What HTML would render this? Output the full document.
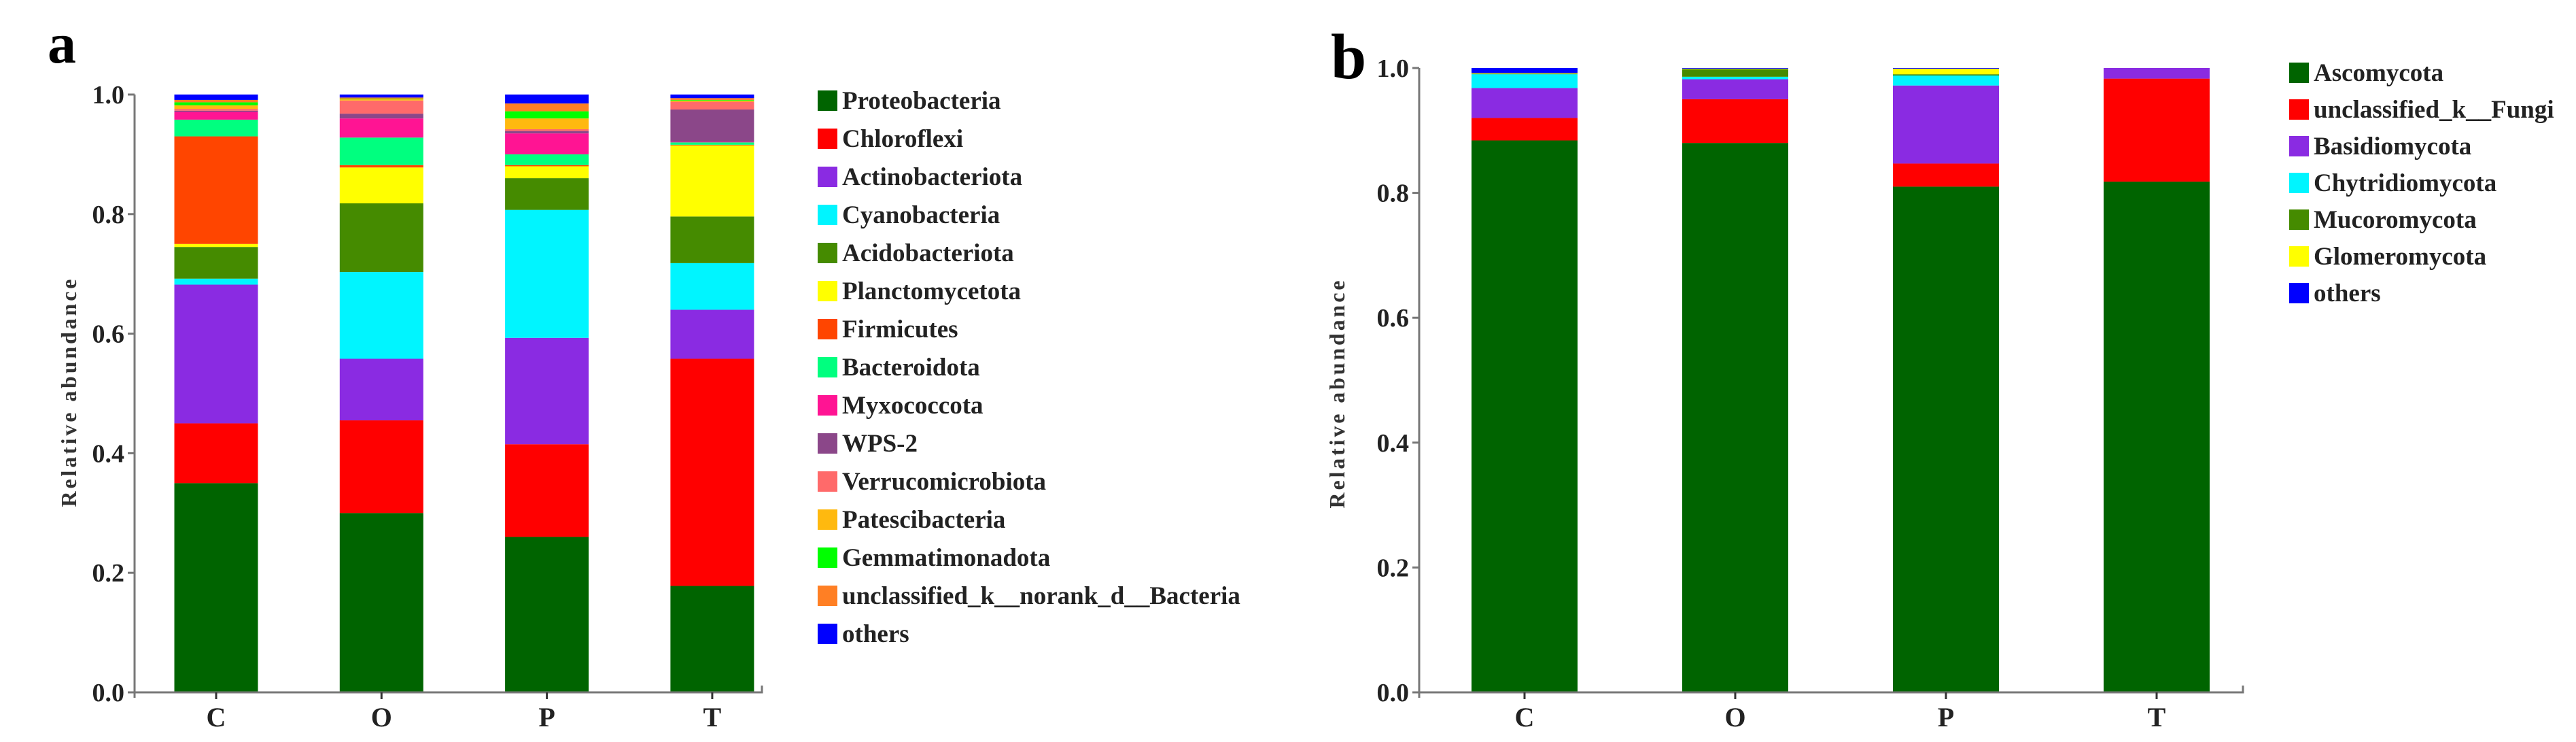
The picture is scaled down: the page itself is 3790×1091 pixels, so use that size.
<!DOCTYPE html>
<html><head><meta charset="utf-8"><style>
html,body{margin:0;padding:0;background:#fff;}
svg{display:block;font-family:"Liberation Serif",serif;font-weight:bold;}
</style></head><body>
<svg id="fig" width="3790" height="1091" viewBox="0 0 3790 1091" xmlns="http://www.w3.org/2000/svg"></svg>
<script>
const categories = ["C","O","P","T"];
const yTicks = [0,0.2,0.4,0.6,0.8,1.0];
const yTickLabels = ["0.0","0.2","0.4","0.6","0.8","1.0"];

const bacTaxa = ["Proteobacteria","Chloroflexi","Actinobacteriota","Cyanobacteria","Acidobacteriota","Planctomycetota","Firmicutes","Bacteroidota","Myxococcota","WPS-2","Verrucomicrobiota","Patescibacteria","Gemmatimonadota","unclassified_k__norank_d__Bacteria","others"];
const bacColors = ["#006400","#ff0000","#8a2be2","#00f5ff","#458b00","#ffff00","#ff4500","#00ff7f","#ff1493","#8b4789","#ff6a6a","#ffb90f","#00ff00","#ff7f24","#0000ff"];
const bacC = [0.35,0.10,0.232,0.01,0.053,0.005,0.18,0.028,0.013,0.002,0.003,0.006,0.005,0.004,0.009];
const bacO = [0.30,0.155,0.103,0.145,0.115,0.06,0.004,0.046,0.032,0.008,0.022,0.002,0.001,0.002,0.005];
const bacP = [0.26,0.155,0.178,0.214,0.053,0.02,0.002,0.018,0.035,0.004,0.003,0.018,0.012,0.013,0.015];
const bacT = [0.178,0.38,0.082,0.078,0.078,0.119,0.001,0.004,0.001,0.054,0.013,0.002,0.001,0.003,0.006];

const funTaxa = ["Ascomycota","unclassified_k__Fungi","Basidiomycota","Chytridiomycota","Mucoromycota","Glomeromycota","others"];
const funColors = ["#006400","#ff0000","#8a2be2","#00f5ff","#458b00","#ffff00","#0000ff"];
const funC = [0.884,0.036,0.048,0.022,0.001,0.001,0.008];
const funO = [0.88,0.07,0.032,0.004,0.012,0.001,0.001];
const funP = [0.81,0.037,0.125,0.016,0.002,0.009,0.001];
const funT = [0.818,0.165,0.017,0,0,0,0];

const NS="http://www.w3.org/2000/svg";
const svg=document.getElementById('fig');
function mk(tag,attrs,parent){const e=document.createElementNS(NS,tag);for(const k in attrs)e.setAttribute(k,attrs[k]);(parent||svg).appendChild(e);return e;}

function panel(p){
  const g=mk('g',{});
  
  
  const y=v=>p.y0-(p.y0-p.y1)*v;
  const x=i=>p.c0+i*p.step;
  const L=mk('text',{x:p.lx,y:p.ly,'font-size':p.lsize,fill:'#000'},g);L.textContent=p.letter;
  
  
  p.series.forEach((vals,ci)=>{
    let acc=0;
    vals.forEach((v,si)=>{
      if(v<=0)return;
      const r=mk('rect',{x:x(ci)-p.bw/2,y:y(acc+v),width:p.bw,height:y(acc)-y(acc+v),fill:p.colors[si]},g);
      
      
      acc+=v;
    });
  });
  const ya=mk('line',{x1:p.ax,y1:y(1),x2:p.ax,y2:p.y0+8,stroke:'#777','stroke-width':3},g);
  
  
  const xa=mk('path',{d:`M${p.ax-10},${p.y0}H${p.axEnd}V${p.y0-10}`,stroke:'#777','stroke-width':3,fill:'none'},g);
  
  
  yTicks.forEach((t,i)=>{
    mk('line',{x1:p.ax-10,y1:y(t),x2:p.ax,y2:y(t),stroke:'#777','stroke-width':3},g);
    const tx=mk('text',{x:p.ax-15,y:y(t)+13,'font-size':38,'text-anchor':'end',fill:'#222'},g);
    tx.textContent=yTickLabels[i];
    
    
  });
  categories.forEach((c,i)=>{
    mk('line',{x1:x(i),y1:p.y0,x2:x(i),y2:p.y0+10,stroke:'#333','stroke-width':3},g);
    const tx=mk('text',{x:x(i),y:p.y0+50,'font-size':40,'text-anchor':'middle',fill:'#222'},g);
    tx.textContent=c;
    
    
  });
  const yt=mk('text',{x:0,y:0,'font-size':32,'text-anchor':'middle',fill:'#333',transform:`translate(${p.tx},${p.ty}) rotate(-90)`,textLength:335,lengthAdjust:'spacing'},g);
  yt.textContent='Relative abundance';
  
  
  p.taxa.forEach((t,i)=>{
    const cy=p.legY+i*p.legStep;
    const sw=mk('rect',{x:p.legX,y:cy-15,width:29,height:30,fill:p.colors[i]},g);
    
    
    const lt=mk('text',{x:p.legX+36,y:cy+12,'font-size':p.legFont,fill:'#222'},g);
    lt.textContent=t;
    
    
  });
}

panel({name:'panel-a-bacteria',letter:'a',lx:70,ly:92,lsize:84,y0:1018,y1:139,ax:198,axEnd:1121,c0:318,step:243.3,bw:123,
  series:[bacC,bacO,bacP,bacT],colors:bacColors,taxa:bacTaxa,tx:112,ty:578,legX:1203,legY:148,legStep:56,legFont:37});
panel({name:'panel-b-fungi',letter:'b',lx:1958,ly:115,lsize:94,y0:1018,y1:100,ax:2088,axEnd:3300,c0:2243,step:310,bw:156,
  series:[funC,funO,funP,funT],colors:funColors,taxa:funTaxa,tx:1978,ty:580,legX:3368,legY:107,legStep:54,legFont:37});
</script>
</body></html>
